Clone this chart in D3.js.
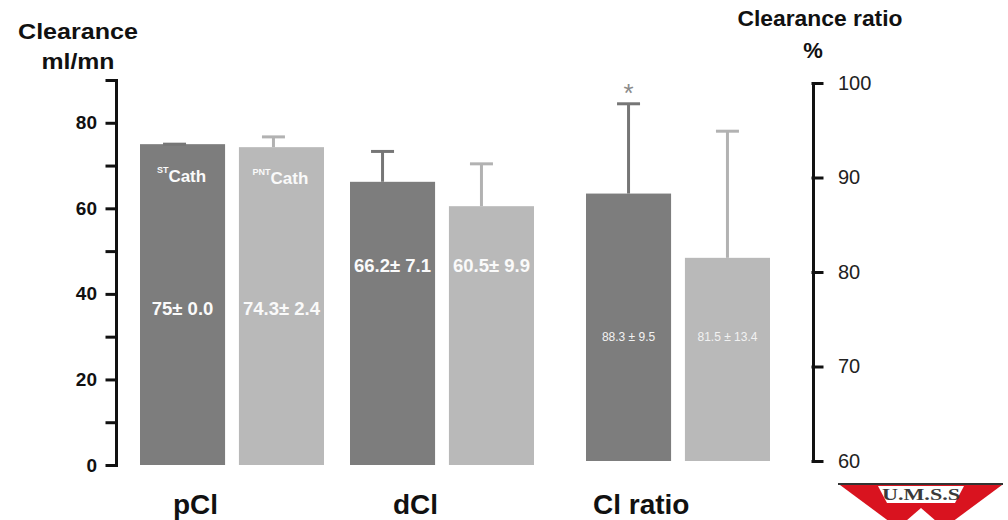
<!DOCTYPE html>
<html>
<head>
<meta charset="utf-8">
<script src="https://cdn.jsdelivr.net/npm/d3@7"></script>
<style>
  body { margin: 0; background: #fff; }
  svg { display: block; }
</style>
</head>
<body>
<svg id="chart" width="1008" height="520"></svg>
<script>
// ---- data ----
const groups = ["pCl", "dCl", "Cl ratio"];
const series = ["ST", "PNT"];
const stMean = [75, 66.2, 88.3];
const stSD = [0.0, 7.1, 9.5];
const pntMean = [74.3, 60.5, 81.5];
const pntSD = [2.4, 9.9, 13.4];
const leftTicks = [0, 10, 20, 30, 40, 50, 60, 70, 80, 90];
const leftTickLabels = [0, 20, 40, 60, 80];
const rightTicks = [60, 70, 80, 90, 100];
const starred = [{ group: "Cl ratio", series: "ST" }];

// ---- layout ----
const svg = d3.select("#chart");
const font = "'Liberation Sans', Arial, Helvetica, sans-serif";
const colors = { ST: "#7d7d7d", PNT: "#b9b9b9" };
const errColors = { ST: "#767676", PNT: "#b2b2b2" };

const yLeft = d3.scaleLinear().domain([0, 90]).range([465, 80]);
const yRight = d3.scaleLinear().domain([60, 100]).range([461, 83]);
const groupX = d3.scaleOrdinal().domain(groups).range([140, 350, 586]);
const inner = d3.scaleBand().domain(series).range([0, 184]).paddingInner(0.14);
const bw = inner.bandwidth();

const errShift = { "pCl": -8, "dCl": -10, "Cl ratio": 0 };
const valueLabelY = { "pCl": 315, "dCl": 272, "Cl ratio": 341 };
const categoryLabelX = { "pCl": 173, "dCl": 393, "Cl ratio": 593 };

const rows = [];
groups.forEach((g, i) => {
  rows.push({ group: g, series: "ST", mean: stMean[i], sd: stSD[i] });
  rows.push({ group: g, series: "PNT", mean: pntMean[i], sd: pntSD[i] });
});
const scaleOf = d => d.group === "Cl ratio" ? yRight : yLeft;
const baseOf = d => d.group === "Cl ratio" ? 60 : 0;
const xOf = d => groupX(d.group) + inner(d.series);
const errX = d => xOf(d) + bw / 2 + errShift[d.group];

// ---- bars ----
svg.append("g").selectAll("rect").data(rows).join("rect")
  .attr("x", xOf)
  .attr("width", bw)
  .attr("y", d => scaleOf(d)(d.mean))
  .attr("height", d => scaleOf(d)(baseOf(d)) - scaleOf(d)(d.mean))
  .attr("fill", d => colors[d.series]);

// ---- error bars (upper whisker only) ----
const eb = svg.append("g").selectAll("g").data(rows).join("g")
  .attr("stroke", d => errColors[d.series])
  .attr("stroke-width", 3);
eb.append("line")
  .attr("x1", errX).attr("x2", errX)
  .attr("y1", d => scaleOf(d)(d.mean))
  .attr("y2", d => scaleOf(d)(d.mean + d.sd));
eb.append("line")
  .attr("x1", d => errX(d) - 11.5)
  .attr("x2", d => errX(d) + 11.5)
  .attr("y1", d => scaleOf(d)(d.mean + d.sd))
  .attr("y2", d => scaleOf(d)(d.mean + d.sd));

// significance mark above the whisker
svg.append("g").selectAll("text")
  .data(rows.filter(d => starred.some(s => s.group === d.group && s.series === d.series)))
  .join("text")
  .attr("x", errX)
  .attr("y", d => scaleOf(d)(d.mean + d.sd) - 2)
  .attr("text-anchor", "middle")
  .attr("font-family", font)
  .attr("font-size", 26)
  .attr("fill", "#8a8a8a")
  .text("*");

// ---- value labels inside bars ----
const fmtLabel = d => d.group === "Cl ratio"
  ? `${d.mean} ± ${d.sd.toFixed(1)}`
  : `${d.mean}± ${d.sd.toFixed(1)}`;
svg.append("g").selectAll("text").data(rows).join("text")
  .attr("x", d => xOf(d) + bw / 2)
  .attr("y", d => valueLabelY[d.group])
  .attr("text-anchor", "middle")
  .attr("font-family", font)
  .attr("font-weight", d => d.group === "Cl ratio" ? "normal" : "bold")
  .attr("font-size", d => d.group === "Cl ratio" ? 12 : 18.5)
  .attr("fill", d => d.group === "Cl ratio" ? "#f2f2f2" : "#fafafa")
  .text(fmtLabel);

// catheter names in the first group
const nameRows = rows.filter(d => d.group === groups[0]);
const names = svg.append("g").selectAll("text").data(nameRows).join("text")
  .attr("x", d => xOf(d) + bw / 2 - 1)
  .attr("y", d => d.series === "ST" ? 182 : 184)
  .attr("text-anchor", "middle")
  .attr("font-family", font)
  .attr("font-weight", "bold")
  .attr("fill", "#fafafa");
names.append("tspan").attr("font-size", 9).attr("dy", -9).text(d => d.series);
names.append("tspan").attr("font-size", 17).attr("dy", 9).text("Cath");

// ---- axes ----
const leftAxis = d3.axisLeft(yLeft)
  .tickValues(leftTicks)
  .tickSize(9)
  .tickSizeOuter(0)
  .tickPadding(10)
  .tickFormat(d => leftTickLabels.includes(d) ? d : "");
const gl = svg.append("g").attr("transform", "translate(116,0)").call(leftAxis);
gl.selectAll("path, line").attr("stroke", "#111").attr("stroke-width", 3).attr("stroke-linecap", "square");
gl.selectAll("text").attr("font-family", font).attr("font-weight", "bold").attr("font-size", 19).attr("fill", "#111");

const rightAxis = d3.axisRight(yRight)
  .tickValues(rightTicks)
  .tickSize(9)
  .tickSizeOuter(0)
  .tickPadding(16);
const gr = svg.append("g").attr("transform", "translate(813,0)").call(rightAxis);
gr.selectAll("path, line").attr("stroke", "#111").attr("stroke-width", 3).attr("stroke-linecap", "square");
gr.selectAll("text").attr("font-family", font).attr("font-size", 20).attr("fill", "#222");

// ---- axis titles ----
const titleL = svg.append("g").attr("font-family", font).attr("font-weight", "bold")
  .attr("font-size", 22).attr("fill", "#111").attr("text-anchor", "middle");
titleL.append("text").attr("x", 78).attr("y", 39).attr("textLength", 120)
  .attr("lengthAdjust", "spacingAndGlyphs").text("Clearance");
titleL.append("text").attr("x", 78).attr("y", 69).attr("textLength", 73)
  .attr("lengthAdjust", "spacingAndGlyphs").text("ml/mn");

const titleR = svg.append("g").attr("font-family", font).attr("font-weight", "bold")
  .attr("font-size", 22).attr("fill", "#111").attr("text-anchor", "middle");
titleR.append("text").attr("x", 820).attr("y", 26).attr("textLength", 165)
  .attr("lengthAdjust", "spacingAndGlyphs").text("Clearance ratio");
titleR.append("text").attr("x", 813).attr("y", 58).text("%");

// ---- category labels ----
svg.append("g").selectAll("text").data(groups).join("text")
  .attr("x", d => categoryLabelX[d])
  .attr("y", 514)
  .attr("font-family", font)
  .attr("font-weight", "bold")
  .attr("font-size", 28)
  .attr("fill", "#111")
  .text(d => d);

// ---- university emblem ----
const logo = svg.append("g");
logo.append("polygon").attr("points", "840,485 1002,485 921,545").attr("fill", "#d9131f");
logo.append("polygon").attr("points", "878,486 964,486 955,503 887,503").attr("fill", "#fff");
logo.append("polygon").attr("points", "921,508 906,521 936,521").attr("fill", "#fff");
logo.append("line").attr("x1", 838).attr("x2", 1003).attr("y1", 484).attr("y2", 484)
  .attr("stroke", "#333").attr("stroke-width", 2);
logo.append("text").attr("x", 921).attr("y", 500).attr("text-anchor", "middle")
  .attr("font-family", "'Liberation Serif', 'Times New Roman', serif")
  .attr("font-weight", "bold").attr("font-size", 16).attr("fill", "#3a3a3a")
  .attr("textLength", 78).attr("lengthAdjust", "spacingAndGlyphs")
  .text("U.M.S.S");
</script>
</body>
</html>
